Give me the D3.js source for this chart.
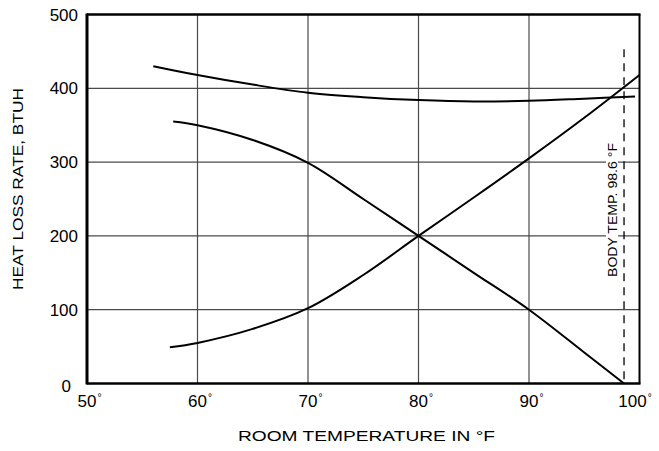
<!DOCTYPE html>
<html>
<head>
<meta charset="utf-8">
<script src="https://cdn.jsdelivr.net/npm/d3@7"></script>
<style>
  html, body { margin: 0; padding: 0; background: #fff; }
  svg { display: block; }
  text { font-family: "Liberation Sans", Arial, Helvetica, sans-serif; fill: #000; }
</style>
</head>
<body>
<svg id="chart" width="659" height="451"></svg>
<script>
// ---- data ----
const xTicks = [50, 60, 70, 80, 90, 100];
const yTicks = [0, 100, 200, 300, 400, 500];

// total heat loss (top curve)
const totalTemp  = [56, 60, 65, 70, 75, 80, 85, 90, 95, 99.6];
const totalValue = [430, 418, 405, 394, 388, 384, 382, 383, 386, 389];

// evaporative loss (descending curve)
const evapTemp  = [57.8, 60, 65, 70, 75, 80, 85, 90, 95, 98.6];
const evapValue = [355, 350, 330, 299, 250, 200, 150, 100, 42, 0];

// convection + radiation loss (ascending curve)
const convTemp  = [57.5, 60, 65, 70, 75, 80, 85, 90, 95, 100];
const convValue = [49, 55, 74, 102, 147, 200, 252, 305, 360, 418];

const bodyTemp = 98.6;
const xTitle = "ROOM TEMPERATURE IN °F";
const yTitle = "HEAT LOSS RATE, BTUH";
const bodyLabel = "BODY TEMP. 98.6 °F";

// ---- drawing ----
const svg = d3.select("#chart");
const x = d3.scaleLinear().domain([50, 100]).range([87, 639.5]);
const y = d3.scaleLinear().domain([0, 500]).range([383.5, 14.5]);

// grid lines
const grid = svg.append("g").attr("stroke", "#4a4a4a").attr("stroke-width", 1.2);
grid.selectAll("line.v").data(xTicks.slice(1, -1)).join("line")
  .attr("x1", d => x(d)).attr("x2", d => x(d))
  .attr("y1", y(500)).attr("y2", y(0));
grid.selectAll("line.h").data(yTicks.slice(1, -1)).join("line")
  .attr("x1", x(50)).attr("x2", x(100))
  .attr("y1", d => y(d)).attr("y2", d => y(d));

// curves
const line = d3.line().x(d => x(d[0])).y(d => y(d[1])).curve(d3.curveCatmullRom.alpha(0.5));
const series = [
  d3.zip(totalTemp, totalValue),
  d3.zip(evapTemp, evapValue),
  d3.zip(convTemp, convValue)
];
svg.append("g").selectAll("path").data(series).join("path")
  .attr("d", line)
  .attr("fill", "none").attr("stroke", "#000").attr("stroke-width", 2);

// body temperature dashed line
svg.append("line")
  .attr("x1", x(bodyTemp)).attr("x2", x(bodyTemp))
  .attr("y1", y(453)).attr("y2", y(0))
  .attr("stroke", "#000").attr("stroke-width", 1.3)
  .attr("stroke-dasharray", "8,6");

// body temp label with white backing
const bx = x(bodyTemp) - 7, by = 210;
const bl = svg.append("g").attr("transform", `translate(${bx},${by}) rotate(-90)`);
bl.append("rect").attr("x", -68).attr("y", -11).attr("width", 136).attr("height", 12).attr("fill", "#fff");
bl.append("text").attr("text-anchor", "middle").attr("font-size", 13.5)
  .attr("textLength", 134).attr("lengthAdjust", "spacingAndGlyphs")
  .text(bodyLabel);

// frame
const frame = svg.append("g").attr("stroke", "#000").attr("fill", "none");
frame.append("line").attr("x1", x(50)).attr("x2", x(50)).attr("y1", y(500) - 1).attr("y2", y(0) + 1).attr("stroke-width", 3);
frame.append("line").attr("x1", x(50)).attr("x2", x(100) + 1).attr("y1", y(0)).attr("y2", y(0)).attr("stroke-width", 2.3);
frame.append("line").attr("x1", x(50)).attr("x2", x(100) + 1).attr("y1", y(500)).attr("y2", y(500)).attr("stroke-width", 2.3);
frame.append("line").attr("x1", x(100)).attr("x2", x(100)).attr("y1", y(500)).attr("y2", y(0)).attr("stroke-width", 2);

// y tick labels
svg.append("g").selectAll("text").data(yTicks).join("text")
  .attr("x", d => d === 0 ? 71 : 78)
  .attr("y", d => y(d) + (d === 0 ? 2 : 0))
  .attr("dy", "0.36em")
  .attr("text-anchor", "end")
  .attr("font-size", 17)
  .text(d => d);

// x tick labels with small degree marks
const xl = svg.append("g");
xTicks.forEach((d, i) => {
  const cx = x(d) + (i === xTicks.length - 1 ? -7 : 0);
  const t = xl.append("text").attr("x", cx).attr("y", 407)
    .attr("text-anchor", "middle").attr("font-size", 17).text(d);
  const w = t.node().getComputedTextLength();
  xl.append("text").attr("x", cx + w / 2 + 1).attr("y", 401)
    .attr("font-size", 10).text("°");
});

// axis titles
svg.append("text").attr("x", 366.5).attr("y", 441).attr("text-anchor", "middle")
  .attr("font-size", 15).attr("textLength", 257).attr("lengthAdjust", "spacingAndGlyphs")
  .text(xTitle);
svg.append("text").attr("transform", "translate(23,189) rotate(-90)")
  .attr("text-anchor", "middle").attr("font-size", 14)
  .attr("textLength", 202).attr("lengthAdjust", "spacingAndGlyphs")
  .text(yTitle);
</script>
</body>
</html>
